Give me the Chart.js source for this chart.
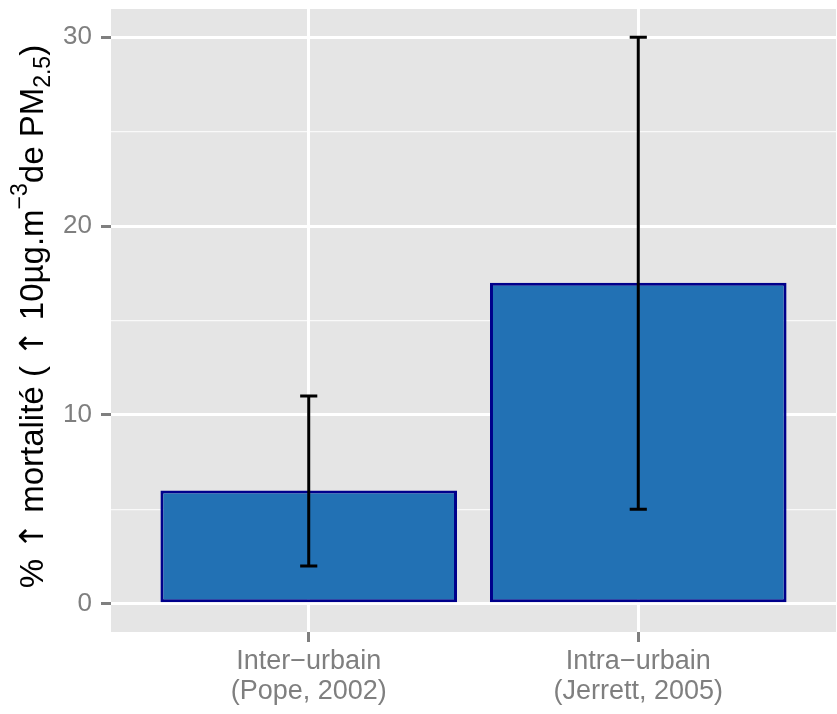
<!DOCTYPE html>
<html>
<head>
<meta charset="utf-8">
<script src="https://cdn.jsdelivr.net/npm/chart.js@4/dist/chart.umd.min.js"></script>
<style>
  html, body { margin: 0; padding: 0; background: #ffffff; }
  #wrap { width: 837px; height: 714px; }
</style>
</head>
<body>
<div id="wrap"><canvas id="c" width="837" height="714"></canvas></div>
<script>
// Study groups and their mortality estimates
const groups = ['Inter\u2212urbain', 'Intra\u2212urbain'];
const studies = ['(Pope, 2002)', '(Jerrett, 2005)'];
const values = [6, 17];
const lowerCI = [2, 5];
const upperCI = [11, 30];
const yTicks = [0, 5, 10, 15, 20, 25, 30];
const yLabelTicks = [0, 10, 20, 30];

const FONT = '"Liberation Sans", Arial, sans-serif';
const ARROW_FONT = '"DejaVu Sans", sans-serif';
const PANEL = '#E5E5E5';
const GREY = '#7F7F7F';

// Grey panel behind the plotting area
const panelBg = {
  id: 'panelBg',
  beforeDraw(chart) {
    const { ctx, chartArea: a } = chart;
    ctx.save();
    ctx.fillStyle = PANEL;
    ctx.fillRect(a.left, a.top, a.right - a.left, a.bottom - a.top);
    ctx.restore();
  }
};

// Confidence-interval whiskers on each bar
const errorBars = {
  id: 'errorBars',
  afterDatasetsDraw(chart) {
    const { ctx } = chart;
    const xs = chart.scales.x, ys = chart.scales.y;
    ctx.save();
    ctx.strokeStyle = '#000000';
    ctx.lineWidth = 3;
    ctx.lineCap = 'butt';
    values.forEach((v, i) => {
      const cx = xs.getPixelForValue(i + 1);
      const half = xs.getPixelForValue(i + 1.026) - cx;
      const yl = ys.getPixelForValue(lowerCI[i]);
      const yu = ys.getPixelForValue(upperCI[i]);
      ctx.beginPath();
      ctx.moveTo(cx, yl); ctx.lineTo(cx, yu);
      ctx.moveTo(cx - half, yl); ctx.lineTo(cx + half, yl);
      ctx.moveTo(cx - half, yu); ctx.lineTo(cx + half, yu);
      ctx.stroke();
    });
    ctx.restore();
  }
};

// Y-axis title with arrows, superscript and subscript parts
const yTitle = {
  id: 'yTitle',
  afterDraw(chart) {
    const { ctx, chartArea: a } = chart;
    const big = 33, small = 23;
    const parts = [
      { t: '% ', s: big, f: FONT, dy: 0 },
      { t: '\u2191', s: big, f: ARROW_FONT, dy: 0 },
      { t: ' mortalit\u00e9 ( ', s: big, f: FONT, dy: 0 },
      { t: '\u2191', s: big, f: ARROW_FONT, dy: 0 },
      { t: ' 10\u00b5g.m', s: big, f: FONT, dy: 0 },
      { t: '\u22123', s: small, f: FONT, dy: -16 },
      { t: 'de PM', s: big, f: FONT, dy: 0 },
      { t: '2.5', s: small, f: FONT, dy: 7 },
      { t: ')', s: big, f: FONT, dy: 0 }
    ];
    ctx.save();
    let total = 0;
    parts.forEach(p => { ctx.font = p.s + 'px ' + p.f; p.w = ctx.measureText(p.t).width; total += p.w; });
    ctx.translate(43, (a.top + a.bottom) / 2 - 4);
    ctx.rotate(-Math.PI / 2);
    ctx.fillStyle = '#000000';
    ctx.textBaseline = 'alphabetic';
    ctx.textAlign = 'left';
    let x = -total / 2;
    parts.forEach(p => {
      ctx.font = p.s + 'px ' + p.f;
      ctx.fillText(p.t, x, p.dy);
      x += p.w;
    });
    ctx.restore();
  }
};

new Chart(document.getElementById('c'), {
  type: 'bar',
  data: {
    datasets: [{
      data: values.map((v, i) => ({ x: i + 1, y: v })),
      backgroundColor: '#2271B4',
      borderColor: '#00008B',
      borderWidth: 3,
      borderSkipped: false,
      categoryPercentage: 1,
      barPercentage: 0.9
    }]
  },
  options: {
    responsive: false,
    animation: false,
    layout: { padding: { top: 9, right: 1, left: 0, bottom: 0 } },
    plugins: { legend: { display: false }, tooltip: { enabled: false } },
    scales: {
      x: {
        type: 'linear',
        min: 0.4,
        max: 2.6,
        offset: false,
        afterBuildTicks(scale) { scale.ticks = groups.map((g, i) => ({ value: i + 1 })); },
        afterFit(scale) { scale.height = 82; scale.paddingLeft = 0; scale.paddingRight = 0; },
        grid: {
          offset: false,
          color: '#FFFFFF',
          lineWidth: 3,
          tickColor: GREY,
          tickWidth: 3,
          tickLength: 10,
          drawOnChartArea: true
        },
        border: { display: false },
        ticks: {
          autoSkip: false,
          maxRotation: 0,
          padding: 5,
          color: GREY,
          font: { family: FONT, size: 27, lineHeight: 1.1 },
          callback: (v) => {
            const i = Math.round(v) - 1;
            return [groups[i], studies[i]];
          }
        }
      },
      y: {
        min: -1.5,
        max: 31.5,
        afterBuildTicks(scale) { scale.ticks = yTicks.map(v => ({ value: v })); },
        afterFit(scale) { scale.width = 111; scale.paddingTop = 0; scale.paddingBottom = 0; },
        grid: {
          color: (c) => (c.tick && c.tick.value % 10 === 0) ? '#FFFFFF' : 'rgba(255,255,255,0.75)',
          lineWidth: (c) => (c.tick && c.tick.value % 10 === 0) ? 3 : 1.2,
          tickColor: (c) => (c.tick && c.tick.value % 10 === 0) ? GREY : 'rgba(0,0,0,0)',
          tickWidth: 3,
          tickLength: 10
        },
        border: { display: false },
        ticks: {
          autoSkip: false,
          padding: 9,
          color: GREY,
          font: { family: FONT, size: 26 },
          callback: (v) => yLabelTicks.includes(v) ? String(v) : ''
        }
      }
    }
  },
  plugins: [panelBg, errorBars, yTitle]
});
</script>
</body>
</html>
